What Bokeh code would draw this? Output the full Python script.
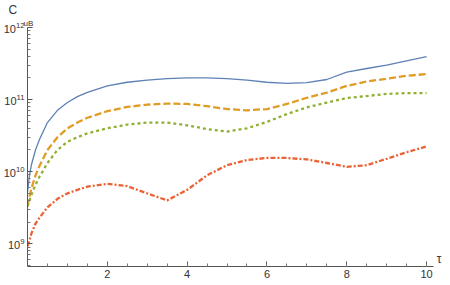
from bokeh.plotting import figure
from bokeh.models import Range1d, FixedTicker, Label, Title
from bokeh.embed import file_html
from bokeh.resources import INLINE

tau = [0, 0.05, 0.1, 0.2, 0.3, 0.5, 0.75, 1, 1.25, 1.5, 2, 2.5, 3, 3.5, 4,
       4.5, 5, 5.5, 6, 6.5, 7, 7.5, 8, 8.5, 9, 9.5, 10]

c_blue = [5.2e9, 8.9e9, 1.26e10, 2.0e10, 2.8e10, 4.8e10, 7.1e10, 9.1e10, 1.1e11,
          1.26e11, 1.55e11, 1.74e11, 1.86e11, 1.95e11, 2.0e11, 2.0e11, 1.95e11,
          1.86e11, 1.74e11, 1.68e11, 1.72e11, 1.9e11, 2.4e11, 2.7e11, 3.0e11,
          3.45e11, 3.95e11]
c_orange = [3.3e9, 4.5e9, 5.9e9, 8.9e9, 1.2e10, 2.0e10, 3.0e10, 4.0e10, 4.8e10,
            5.6e10, 6.9e10, 7.9e10, 8.5e10, 8.8e10, 8.7e10, 8.1e10, 7.4e10,
            7.1e10, 7.4e10, 8.7e10, 1.06e11, 1.25e11, 1.55e11, 1.78e11, 1.95e11,
            2.14e11, 2.26e11]
c_green = [3.3e9, 4.0e9, 4.8e9, 6.6e9, 8.5e9, 1.32e10, 2.0e10, 2.6e10, 3.0e10,
           3.4e10, 4.0e10, 4.5e10, 4.8e10, 4.8e10, 4.4e10, 3.9e10, 3.6e10,
           4.0e10, 4.9e10, 6.3e10, 7.8e10, 9.1e10, 1.05e11, 1.12e11, 1.2e11,
           1.23e11, 1.23e11]
c_red = [9.3e8, 1.12e9, 1.4e9, 1.9e9, 2.3e9, 3.2e9, 4.2e9, 5.0e9, 5.6e9, 6.2e9,
         6.8e9, 6.3e9, 5.0e9, 4.0e9, 5.6e9, 8.9e9, 1.23e10, 1.45e10, 1.55e10,
         1.55e10, 1.48e10, 1.32e10, 1.17e10, 1.23e10, 1.51e10, 1.86e10, 2.24e10]

x_major = [2, 4, 6, 8, 10]
x_minor = [0.5 * i for i in range(1, 21)]
y_major = [1e9, 1e10, 1e11, 1e12]
y_minor = [k * 10.0 ** n for n in range(8, 12) for k in range(2, 10)]

X_END = 10.18
Y_START = 10 ** 8.685
Y_TOP = 1e12

p = figure(width=450, height=285, y_axis_type="log",
           x_range=Range1d(0, 10.6), y_range=Range1d(Y_START, Y_TOP),
           output_backend="svg", toolbar_location=None,
           min_border_top=24, min_border_right=0, min_border_left=26,
           min_border_bottom=19)
p.outline_line_color = None
p.xgrid.visible = False
p.ygrid.visible = False
p.background_fill_color = "white"

p.line(tau, c_blue, line_color="#5E81B5", line_width=1.3)
p.line(tau, c_orange, line_color="#E19C24", line_width=2.3, line_dash="7 3")
p.line(tau, c_green, line_color="#8FB032", line_width=2.3, line_dash="3 3")
p.line(tau, c_red, line_color="#EB6235", line_width=2.3, line_dash="5 2 2 2")

for ax in (p.xaxis[0], p.yaxis[0]):
    ax.axis_line_color = "#555555"
    ax.major_tick_line_color = "#555555"
    ax.minor_tick_line_color = "#777777"
    ax.major_tick_in = 5
    ax.major_tick_out = 0
    ax.minor_tick_in = 3
    ax.minor_tick_out = 0
    ax.major_label_text_color = "#333333"
    ax.major_label_text_font = "Liberation Sans"
    ax.major_label_text_font_size = "11px"
    ax.major_label_standoff = 3

p.xaxis.bounds = (0, X_END)
p.xaxis.ticker = FixedTicker(ticks=x_major, minor_ticks=x_minor)
p.yaxis.ticker = FixedTicker(ticks=y_major, minor_ticks=y_minor)

# axis name "C_uB" above the top of the vertical axis (titles are not clipped)
p.title.text = "C"
p.title.align = "left"
p.title.offset = -19
p.title.standoff = 0
p.title.text_font = "Liberation Sans"
p.title.text_font_size = "12px"
p.title.text_font_style = "normal"
p.title.text_color = "#333333"
p.title.text_line_height = 1.0
p.add_layout(Title(text="uB", align="left", offset=-4, standoff=0,
                   text_font="Liberation Sans", text_font_size="8px",
                   text_font_style="normal", text_color="#333333",
                   text_line_height=1.0), "above")

# axis name "τ" at the right end of the horizontal axis
p.add_layout(Label(x=X_END, y=Y_START, x_offset=3, y_offset=1, text="τ",
                   text_font="Liberation Sans", text_font_size="12px",
                   text_color="#333333", text_baseline="bottom"))

open("out.html", "w").write(file_html(p, INLINE))
